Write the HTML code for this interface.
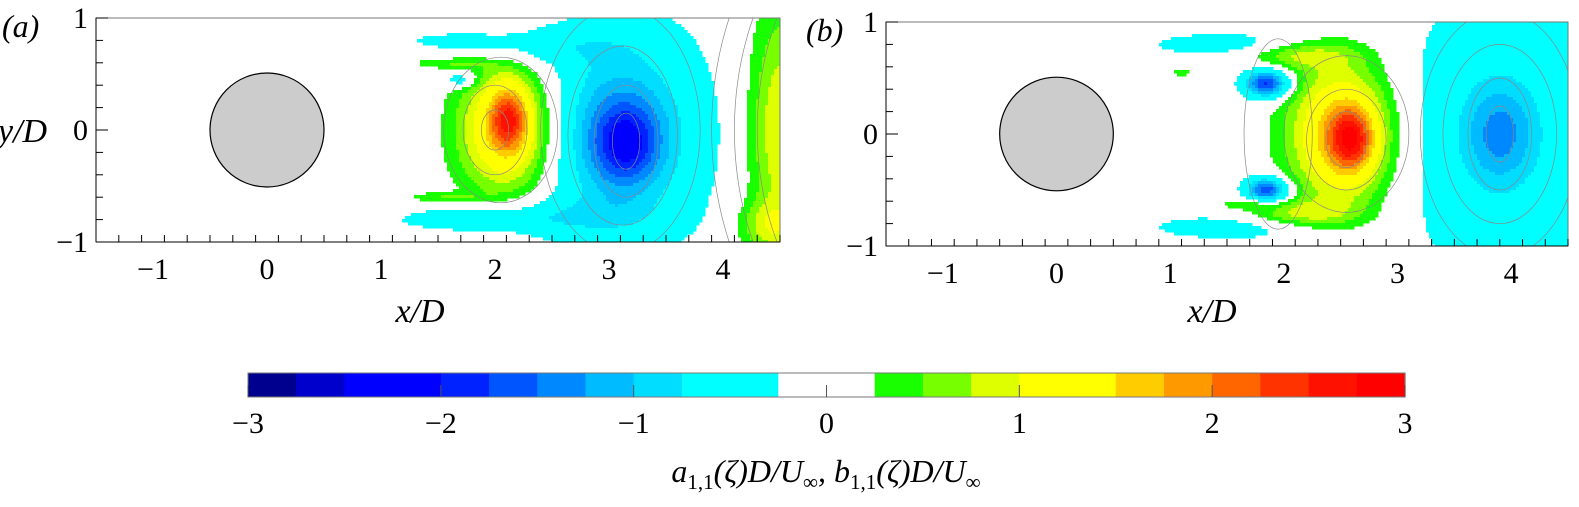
<!DOCTYPE html>
<html><head><meta charset="utf-8">
<style>
body{margin:0;background:#fff;}
svg{display:block;font-family:"Liberation Serif",serif;}
</style></head>
<body>
<svg id="fig" width="1579" height="507" viewBox="0 0 1579 507">
<defs>
<clipPath id="clipA"><rect x="96" y="18" width="684" height="224"/></clipPath>
<clipPath id="clipB"><rect x="886" y="22" width="682" height="224"/></clipPath>
</defs>
<g id="panelA"></g>
<g id="panelB"></g>
<g id="cbar"></g>
<text x="2" y="37" font-size="32" font-style="italic">(a)</text>
<text x="806" y="41" font-size="32" font-style="italic">(b)</text>
<text x="420" y="322" font-size="34" font-style="italic" text-anchor="middle">x/D</text>
<text x="1212" y="322" font-size="34" font-style="italic" text-anchor="middle">x/D</text>
<text x="-2" y="142" font-size="34" font-style="italic">y/D</text>
<text x="826" y="482" font-size="32" font-style="italic" text-anchor="middle">a<tspan font-size="21" font-style="normal" dy="7">1,1</tspan><tspan dy="-7">(ζ)D/U</tspan><tspan font-size="21" font-style="normal" dy="7">∞</tspan><tspan dy="-7">, b</tspan><tspan font-size="21" font-style="normal" dy="7">1,1</tspan><tspan dy="-7">(ζ)D/U</tspan><tspan font-size="21" font-style="normal" dy="7">∞</tspan></text>
</svg>
<script>
// colour levels (24 bins of 0.25 from -3 to 3)
const levelColors=["#00008f","#0000cd","#0000ff","#0000ff","#0022ff","#0055ff","#0088ff","#00bbff","#00ddff","#00ffff","#00ffff","#ffffff","#ffffff","#1aff00","#77ff00","#ddff00","#ffff00","#ffff00","#ffcc00","#ff9900","#ff6600","#ff3300","#ff1100","#ff0000"];
const cbarTicks=[-3,-2,-1,0,1,2,3];
const xTicks=[-1,0,1,2,3,4];
const yTicks=[-1,0,1];
// vortex blobs: [x, y, amplitude, sigmaX, sigmaY]
const blobsA=[
 [2.12,0.1,1.3,0.12,0.2],[2.1,0.0,1.6,0.3,0.42],
 [3.15,-0.12,-0.9,0.18,0.22],[3.1,-0.05,-1.0,0.4,0.5],[3.15,0.0,-0.45,0.6,0.85],
 [2.3,0.75,-0.5,0.55,0.12],[2.3,-0.78,-0.55,0.65,0.12],[1.7,0.8,-0.35,0.3,0.04],[1.8,-0.8,-0.4,0.4,0.05],
 [1.6,0.6,0.5,0.25,0.035],[1.55,-0.6,0.5,0.25,0.035],[1.7,0.45,-0.7,0.1,0.05],
 [4.5,0.0,1.0,0.2,0.8],[4.4,-0.85,0.6,0.2,0.15]
];
const blobsB=[
 [2.6,-0.05,1.4,0.14,0.2],[2.5,0.0,1.7,0.32,0.45],[2.1,0.72,0.75,0.35,0.09],[2.1,-0.72,0.75,0.35,0.09],
 [1.85,0.45,-1.9,0.14,0.09],[1.85,-0.5,-1.8,0.13,0.08],
 [1.6,0.8,-0.55,0.55,0.08],[1.6,-0.83,-0.55,0.55,0.08],
 [3.9,0.0,-0.7,0.22,0.3],[3.9,0.0,-0.7,0.6,0.95],
 [1.1,0.55,0.5,0.05,0.03],[1.7,-0.62,0.5,0.15,0.03]
];
const NS="http://www.w3.org/2000/svg";
function mk(tag,attrs,parent){const e=document.createElementNS(NS,tag);for(const k in attrs)e.setAttribute(k,attrs[k]);parent.appendChild(e);return e;}
function colorFor(v){if(Math.abs(v)<0.25)return null;let i=Math.floor(v/0.25)+12;i=Math.max(0,Math.min(23,i));return levelColors[i];}
function field(blobs,x,y){let s=0;for(const b of blobs){const dx=(x-b[0])/b[3],dy=(y-b[1])/b[4];s+=b[2]*Math.exp(-0.5*(dx*dx+dy*dy));}return s;}
function panel(g,L,T,W,H,blobs,clip,streams){
 const sx=x=>L+(x+1.5)/6*W, sy=y=>T+(1-y)/2*H;
 const cells=mk('g',{'clip-path':'url(#'+clip+')'},g);
 
 
 const c=3;
 for(let px=L;px<L+W;px+=c){for(let py=T;py<T+H;py+=c){
  const x=(px+c/2-L)/W*6-1.5, y=1-(py+c/2-T)/H*2;
  const col=colorFor(field(blobs,x,y));
  if(col){const r=mk('rect',{x:px,y:py,width:c+0.5,height:c+0.5,fill:col},cells);
   
   }
 }}
 const sl=mk('g',{'clip-path':'url(#'+clip+')',fill:'none',stroke:'#888','stroke-width':'0.7'},g);
 
 
 for(const s of streams){const e=mk('ellipse',{cx:sx(s[0]),cy:sy(s[1]),rx:s[2]/6*W,ry:s[3]/2*H},sl);
  
  }
 const cyl=mk('circle',{cx:sx(0),cy:sy(0),r:0.5/6*W,fill:'#cccccc',stroke:'#000','stroke-width':1.2},g);
 
 
 const fr=mk('rect',{x:L,y:T,width:W,height:H,fill:'none',stroke:'#777','stroke-width':1},g);
 
 
 const ax=mk('g',{stroke:'#000','stroke-width':1},g);
 
 
 mk('line',{x1:L,y1:T+H,x2:L+W,y2:T+H},ax);mk('line',{x1:L,y1:T,x2:L,y2:T+H},ax);
 for(let k=-15;k<=45;k+=2){const x=k/10,major=k%10===0;mk('line',{x1:sx(x),y1:T+H,x2:sx(x),y2:T+H-(major?14:7)},ax);}
 for(let k=-10;k<=10;k+=2){const y=k/10;mk('line',{x1:L,y1:sy(y),x2:L+(k%10===0?12:7),y2:sy(y)},ax);}
 for(const t of xTicks){const tx=mk('text',{x:sx(t),y:T+H+37,'font-size':30,'text-anchor':'middle'},g);tx.textContent=t<0?'−'+(-t):t;
  
  }
 for(const t of yTicks){const tx=mk('text',{x:L-8,y:sy(t)+10,'font-size':30,'text-anchor':'end'},g);tx.textContent=t<0?'−'+(-t):t;
  
  }
}
panel(document.getElementById('panelA'),96,18,684,224,blobsA,'clipA',
 [[2.0,0,0.12,0.18],[2.0,0,0.28,0.4],[2.05,0,0.5,0.65],[3.15,-0.1,0.12,0.25],[3.15,-0.1,0.28,0.5],[3.12,-0.05,0.48,0.8],[3.1,0,0.7,1.1],[5.6,0,1.3,2],[5.6,0,1.5,2.2],[5.6,0,1.7,2.4]]);
panel(document.getElementById('panelB'),886,22,682,224,blobsB,'clipB',
 [[2.55,-0.05,0.18,0.25],[2.55,-0.05,0.35,0.45],[2.55,0,0.55,0.7],[3.9,0,0.12,0.25],[3.9,0,0.28,0.5],[3.9,0,0.5,0.8],[3.9,0,0.7,1.1],[1.95,0,0.3,0.85]]);
// colorbar
const cb=document.getElementById('cbar');
const CL=248,CW=1157,CT=373,CH=24;
const cx=v=>CL+(v+3)/6*CW;
levelColors.forEach((col,i)=>{const v0=-3+i*0.25;const r=mk('rect',{x:cx(v0),y:CT,width:CW/24+0.6,height:CH,fill:col},cb);
 
 });
const cf=mk('rect',{x:CL,y:CT,width:CW,height:CH,fill:'none',stroke:'#777','stroke-width':1},cb);


cbarTicks.forEach(t=>{mk('line',{x1:cx(t),y1:CT+CH,x2:cx(t),y2:CT+CH-12,stroke:'#555'},cb);
 const tx=mk('text',{x:cx(t),y:CT+CH+36,'font-size':30,'text-anchor':'middle'},cb);tx.textContent=t<0?'−'+(-t):t;
 
 });
</script>
</body></html>
